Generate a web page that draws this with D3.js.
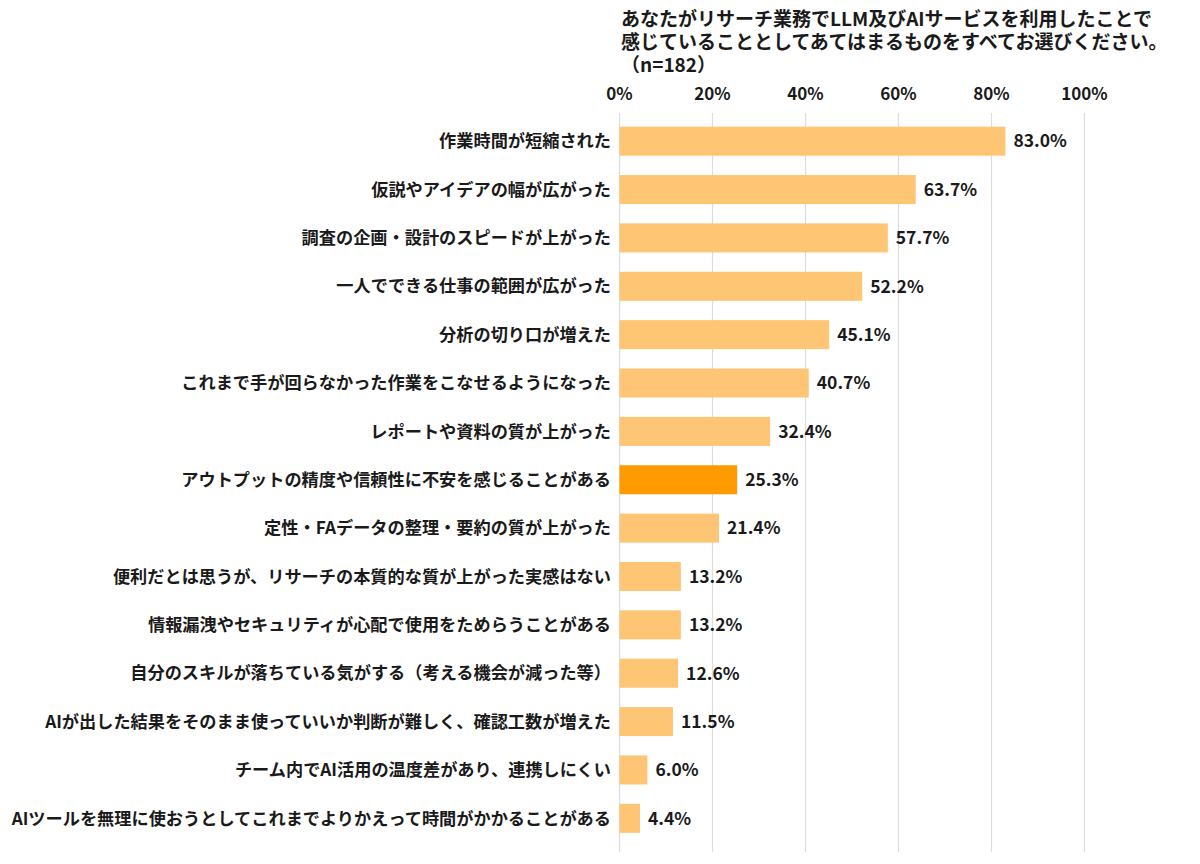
<!DOCTYPE html>
<html>
<head>
<meta charset="utf-8">
<script src="https://cdn.jsdelivr.net/npm/d3@7"></script>
<style>
  body { margin: 0; background: #fff; }
  text { font-family: "Noto Sans CJK JP", "Noto Sans", sans-serif; font-weight: 700; fill: #1a1a1a; }
</style>
</head>
<body>
<svg id="chart" width="1200" height="864"></svg>
<script>
const categories = [
  "作業時間が短縮された",
  "仮説やアイデアの幅が広がった",
  "調査の企画・設計のスピードが上がった",
  "一人でできる仕事の範囲が広がった",
  "分析の切り口が増えた",
  "これまで手が回らなかった作業をこなせるようになった",
  "レポートや資料の質が上がった",
  "アウトプットの精度や信頼性に不安を感じることがある",
  "定性・FAデータの整理・要約の質が上がった",
  "便利だとは思うが、リサーチの本質的な質が上がった実感はない",
  "情報漏洩やセキュリティが心配で使用をためらうことがある",
  "自分のスキルが落ちている気がする（考える機会が減った等）",
  "AIが出した結果をそのまま使っていいか判断が難しく、確認工数が増えた",
  "チーム内でAI活用の温度差があり、連携しにくい",
  "AIツールを無理に使おうとしてこれまでよりかえって時間がかかることがある"
];
const values = [83.0, 63.7, 57.7, 52.2, 45.1, 40.7, 32.4, 25.3, 21.4, 13.2, 13.2, 12.6, 11.5, 6.0, 4.4];
const highlighted = ["アウトプットの精度や信頼性に不安を感じることがある"];
const tickValues = [0, 20, 40, 60, 80, 100];
const titleLines = [
  "あなたがリサーチ業務でLLM及びAIサービスを利用したことで",
  "感じていることとしてあてはまるものをすべてお選びください。",
  "（n=182）"
];

const svg = d3.select("#chart");

const x = d3.scaleLinear().domain([0, 100]).range([619.5, 1084.5]);
const y = d3.scaleBand().domain(categories).range([117, 842.5]).paddingInner(0.4).paddingOuter(0.2);

// title (one text block, three lines)
svg.append("text")
  .attr("x", 621)
  .attr("y", 26)
  .attr("font-size", 19)
  .selectAll("tspan")
  .data(titleLines)
  .enter().append("tspan")
  .attr("x", 621)
  .attr("dy", (d, i) => i === 0 ? 0 : 23)
  .text(d => d);

// gridlines
svg.append("g").selectAll("line")
  .data(tickValues)
  .enter().append("line")
  .attr("x1", d => x(d)).attr("x2", d => x(d))
  .attr("y1", 113).attr("y2", 852)
  .attr("stroke", "#dcdcdc")
  .attr("stroke-width", 1.2);

// top axis labels
svg.append("g").selectAll("text")
  .data(tickValues)
  .enter().append("text")
  .attr("x", d => x(d))
  .attr("y", 100)
  .attr("text-anchor", "middle")
  .attr("font-size", 17)
  .text(d => d + "%");

// bars
svg.append("g").selectAll("rect")
  .data(categories)
  .enter().append("rect")
  .attr("x", x(0))
  .attr("y", d => y(d))
  .attr("width", (d, i) => x(values[i]) - x(0))
  .attr("height", y.bandwidth())
  .attr("fill", d => highlighted.includes(d) ? "#ff9a00" : "#fec574");

// category labels
svg.append("g").selectAll("text")
  .data(categories)
  .enter().append("text")
  .attr("x", 611)
  .attr("y", d => y(d) + y.bandwidth() / 2)
  .attr("dy", "0.36em")
  .attr("text-anchor", "end")
  .attr("font-size", 17.2)
  .text(d => d);

// value labels
svg.append("g").selectAll("text")
  .data(categories)
  .enter().append("text")
  .attr("x", (d, i) => x(values[i]) + 8)
  .attr("y", d => y(d) + y.bandwidth() / 2)
  .attr("dy", "0.36em")
  .attr("font-size", 17.5)
  .text((d, i) => values[i].toFixed(1) + "%");
</script>
</body>
</html>
